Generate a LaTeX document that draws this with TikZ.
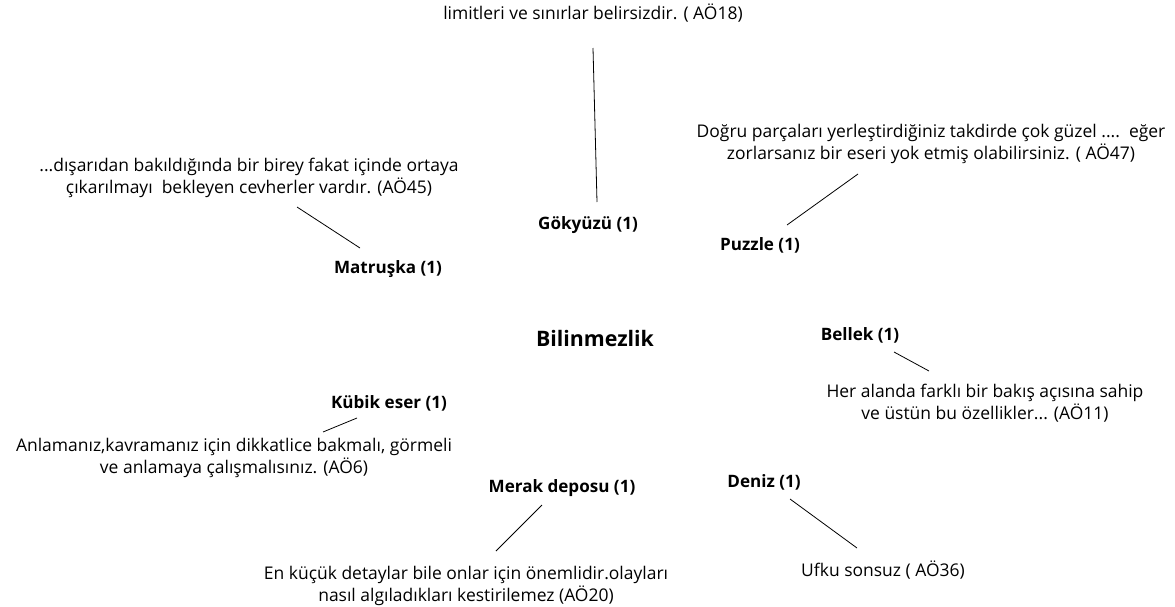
\documentclass[tikz,border=0pt]{standalone}
\usepackage{fontspec}
\setmainfont{Open Sans}
\usepackage{tikz}
\usetikzlibrary{calc, positioning}

\begin{document}
\begin{tikzpicture}[x=0.75pt, y=-0.75pt,
        quote/.style={align=center, inner sep=0, font=\fontsize{13.1}{16.5}\selectfont},
        code/.style={inner sep=0, font=\fontsize{12.8}{14}\selectfont\bfseries},
        link/.style={black, line width=0.6pt}]
        \useasboundingbox (0,0) rectangle (1175,607);

        % center
        \node[inner sep=0, font=\fontsize{16}{18}\selectfont\bfseries] (bil) at (595,338) {Bilinmezlik};

        % codes
        \node[code] (gok) at (588,225) {Gökyüzü (1)};
        \node[code] (mat) at (388,269) {Matruşka (1)};
        \node[code] (puz) at (760,245) {Puzzle (1)};
        \node[code] (bel) at (860,335) {Bellek (1)};
        \node[code] (kub) at (389,403) {Kübik eser (1)};
        \node[code] (den) at (764,482) {Deniz (1)};
        \node[code] (mer) at (562,488) {Merak deposu (1)};

        % quotes
        \node[quote] (q18) at (593,13) {limitleri ve sınırlar belirsizdir. ( AÖ18)};
        \node[quote] (q45) at (249,178) {...dışarıdan bakıldığında bir birey fakat içinde ortaya\\çıkarılmayı~~bekleyen cevherler vardır. (AÖ45)};
        \node[quote] (q47) at (931,144) {Doğru parçaları yerleştirdiğiniz takdirde çok güzel ....~~eğer\\zorlarsanız bir eseri yok etmiş olabilirsiniz. ( AÖ47)};
        \node[quote] (q11) at (985,403) {Her alanda farklı bir bakış açısına sahip\\ve üstün bu özellikler... (AÖ11)};
        \node[quote] (q6) at (234,458) {Anlamanız,kavramanız için dikkatlice bakmalı, görmeli\\ve anlamaya çalışmalısınız. (AÖ6)};
        \node[quote] (q36) at (883,570) {Ufku sonsuz ( AÖ36)};
        \node[quote] (q20) at (466,586) {En küçük detaylar bile onlar için önemlidir.olayları\\nasıl algıladıkları kestirilemez (AÖ20)};

        % lines
        \draw[link] ($(gok)+(9,-23)$) -- ($(q18)+(0,35)$);
        \draw[link] ($(mat)+(-28,-21)$) -- ($(q45)+(48,29)$);
        \draw[link] ($(puz)+(27,-20)$) -- ($(q47)+(-73,30)$);
        \draw[link] ($(bel)+(34,17)$) -- ($(q11)+(-56,-32)$);
        \draw[link] ($(kub)+(-32,15)$) -- ($(q6)+(89,-26)$);
        \draw[link] ($(den)+(26,17)$) -- ($(q36)+(-26,-22)$);
        \draw[link] ($(mer)+(-20,17)$) -- ($(q20)+(30,-35)$);
    \end{tikzpicture}
\end{document}
